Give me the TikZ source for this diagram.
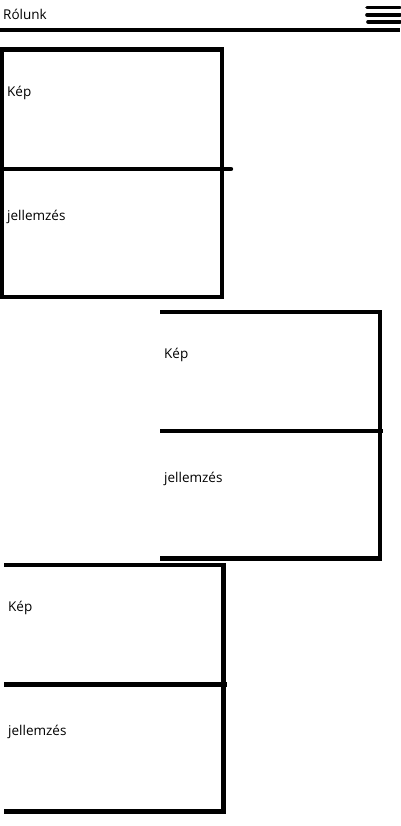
\documentclass[tikz,border=0pt]{standalone}
\usepackage{fontspec}
\setmainfont{Open Sans}
\begin{document}
\begin{tikzpicture}[x=1pt,y=-1pt,
  lbl/.style={anchor=base west,inner sep=0pt,font=\fontsize{13.5}{15}\selectfont},
  thick4/.style={line width=4.4pt},
  burger/.style={line width=3.6pt,line cap=round}]
\useasboundingbox (0,0) rectangle (400,826);
% header
\node[lbl] (title) at (3,19.5) {Rólunk};
\draw[thick4] (0,30) -- (400,30);
\draw[burger] (367,7.5) -- (400,7.5);
\draw[burger] (367,15) -- (400,15);
\draw[burger] (368,22) -- (400,22);
% box 1
\draw[thick4] (1.5,49.5) rectangle (222,297);
\draw[thick4,line cap=round] (0,169) -- (231,169);
\node[lbl] (kep1) at (7,97) {Kép};
\node[lbl] (jel1) at (7,220) {jellemzés};
% box 2
\draw[thick4] (160,312) -- (380,312) -- (380,558.5) -- (160,558.5);
\draw[thick4] (160,431) -- (383,431);
\node[lbl] (kep2) at (164,358) {Kép};
\node[lbl] (jel2) at (164,482) {jellemzés};
% box 3
\draw[thick4] (4,565) -- (223.5,565) -- (223.5,811.5) -- (4,811.5);
\draw[thick4] (4,684.5) -- (227,684.5);
\node[lbl] (kep3) at (8,611) {Kép};
\node[lbl] (jel3) at (8,735) {jellemzés};
\end{tikzpicture}
\end{document}
